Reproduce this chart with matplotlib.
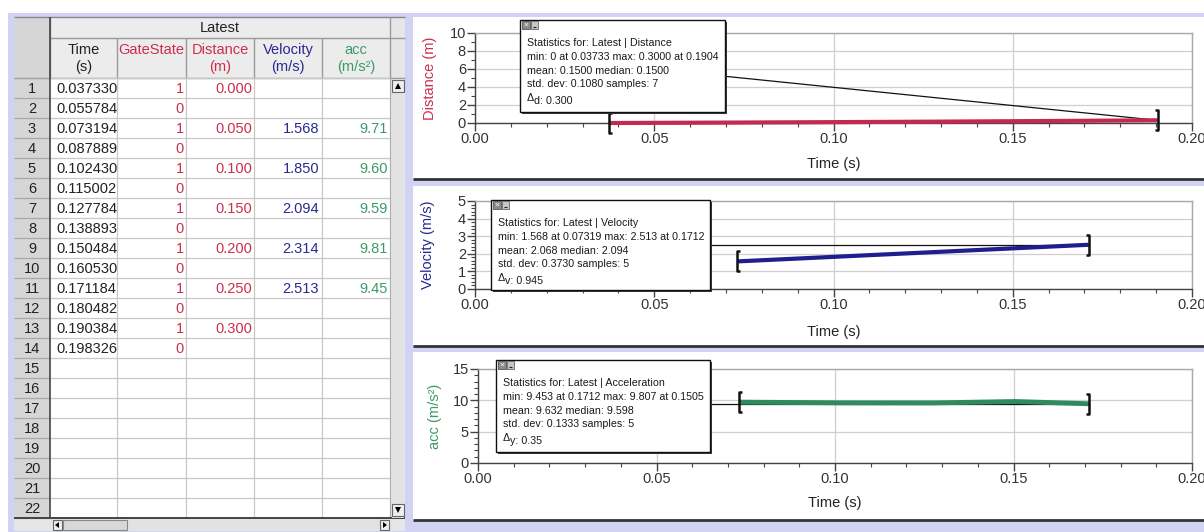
import matplotlib
matplotlib.use("Agg")
import matplotlib.pyplot as plt
from matplotlib.patches import Rectangle, Polygon
from matplotlib.path import Path
from matplotlib.ticker import MultipleLocator, FormatStrFormatter

plt.rcParams['font.family'] = ['Liberation Sans', 'DejaVu Sans']

# ---------------- data ----------------
time_s = [0.037330, 0.055784, 0.073194, 0.087889, 0.102430, 0.115002, 0.127784,
          0.138893, 0.150484, 0.160530, 0.171184, 0.180482, 0.190384, 0.198326]
gate_state = [1, 0, 1, 0, 1, 0, 1, 0, 1, 0, 1, 0, 1, 0]
distance_m = [0.000, None, 0.050, None, 0.100, None, 0.150, None, 0.200, None,
              0.250, None, 0.300, None]
velocity_ms = [None, None, 1.568, None, 1.850, None, 2.094, None, 2.314, None,
               2.513, None, None, None]
acc_ms2 = [None, None, 9.71, None, 9.60, None, 9.59, None, 9.81, None, 9.45,
           None, None, None]
n_table_rows = 22

col_headers = [("Time", "(s)"), ("GateState", ""), ("Distance", "(m)"),
               ("Velocity", "(m/s)"), ("acc", "(m/s²)")]

dist_stats = ["Statistics for: Latest | Distance",
              "min: 0 at 0.03733 max: 0.3000 at 0.1904",
              "mean: 0.1500 median: 0.1500",
              "std. dev: 0.1080 samples: 7"]
dist_delta = ("d", "0.300")
vel_stats = ["Statistics for: Latest | Velocity",
             "min: 1.568 at 0.07319 max: 2.513 at 0.1712",
             "mean: 2.068 median: 2.094",
             "std. dev: 0.3730 samples: 5"]
vel_delta = ("v", "0.945")
acc_stats = ["Statistics for: Latest | Acceleration",
             "min: 9.453 at 0.1712 max: 9.807 at 0.1505",
             "mean: 9.632 median: 9.598",
             "std. dev: 0.1333 samples: 5"]
acc_delta = ("y", "0.35")

# ---------------- styles ----------------
W, H = 1204, 532
LAV = '#d2d2f4'
RED = '#c22a52'
BLUE = '#1e1e8e'
GREEN = '#2e8b5e'
RED_T = '#cc2e4e'
BLUE_T = '#2a2a90'
GREEN_T = '#3c9a68'
FS_TAB = 10.5
FS_TICK = 10.5
FS_LAB = 10.5
FS_STAT = 7.7

fig = plt.figure(figsize=(W / 100, H / 100), dpi=100)
fig.patch.set_facecolor('white')

bg = fig.add_axes([0, 0, 1, 1], zorder=0)
bg.set_xlim(0, W)
bg.set_ylim(H, 0)
bg.axis('off')


def rect(ax, x0, y0, x1, y1, fc, ec='none', lw=0.0, z=1):
    ax.add_patch(Rectangle((x0, y0), x1 - x0, y1 - y0, fc=fc, ec=ec, lw=lw, zorder=z))


def hline(ax, y, x0, x1, c, lw=1.0, z=2):
    ax.plot([x0, x1], [y, y], color=c, lw=lw, zorder=z, solid_capstyle='butt')


def vline(ax, x, y0, y1, c, lw=1.0, z=2):
    ax.plot([x, x], [y0, y1], color=c, lw=lw, zorder=z, solid_capstyle='butt')


# lavender application background
rect(bg, 8, 13, W, H, LAV)

# ---------------- table ----------------
T_L, T_R = 14, 405
col_x = [14, 50, 117, 186, 254, 322, 390]
HDR_TOP, HDR_MID, HDR_BOT = 17, 38, 78
ROW_H = 20
T_BOT = HDR_BOT + ROW_H * n_table_rows  # 518

rect(bg, T_L, HDR_TOP, T_R, T_BOT + 13, '#e6e6e6', z=1)
rect(bg, col_x[1], HDR_BOT, col_x[-1], T_BOT, 'white', z=1)
rect(bg, col_x[0], HDR_TOP, col_x[1], T_BOT, '#d6d6d6', z=1)
rect(bg, col_x[1], HDR_TOP, col_x[-1], HDR_BOT, '#ececec', z=1)

hline(bg, HDR_TOP, T_L, T_R, '#888888', 1.0)
hline(bg, HDR_MID, col_x[1], T_R, '#9a9a9a', 1.0)
hline(bg, HDR_BOT, T_L, T_R, '#9a9a9a', 1.0)
for x in col_x[1:]:
    vline(bg, x, HDR_MID if x not in (col_x[1], col_x[-1]) else HDR_TOP, HDR_BOT, '#9a9a9a', 1.0)
bg.text((col_x[1] + col_x[-1]) / 2, (HDR_TOP + HDR_MID) / 2 + 1, "Latest",
        ha='center', va='center', fontsize=FS_TAB, color='#222222', zorder=3)
hdr_colors = ['#222222', RED_T, RED_T, BLUE_T, GREEN_T]
for i, (l1, l2) in enumerate(col_headers):
    cx = (col_x[i + 1] + col_x[i + 2]) / 2
    bg.text(cx, 50, l1, ha='center', va='center', fontsize=FS_TAB, color=hdr_colors[i], zorder=3)
    if l2:
        bg.text(cx, 67, l2, ha='center', va='center', fontsize=FS_TAB, color=hdr_colors[i], zorder=3)

for r in range(n_table_rows + 1):
    y = HDR_BOT + r * ROW_H
    hline(bg, y, col_x[1], col_x[-1], '#c8c8c8', 0.9)
    hline(bg, y, col_x[0], col_x[1], '#a8a8a8', 0.9)
for x in col_x[2:-1]:
    vline(bg, x, HDR_BOT, T_BOT, '#c8c8c8', 0.9)
vline(bg, col_x[1], HDR_TOP, T_BOT, '#444444', 1.2)
vline(bg, col_x[-1], HDR_BOT, T_BOT, '#b0b0b0', 0.9)
hline(bg, T_BOT, T_L, T_R, '#444444', 1.4)

for r in range(n_table_rows):
    cy = HDR_BOT + r * ROW_H + ROW_H / 2 + 1
    bg.text((col_x[0] + col_x[1]) / 2, cy, str(r + 1), ha='center', va='center',
            fontsize=FS_TAB, color='#222222', zorder=3)
for r in range(len(time_s)):
    cy = HDR_BOT + r * ROW_H + ROW_H / 2 + 1
    bg.text(col_x[1] + 6, cy, "%.6f" % time_s[r], ha='left', va='center',
            fontsize=FS_TAB, color='#222222', zorder=3)
    bg.text(col_x[3] - 2, cy, "%d" % gate_state[r], ha='right', va='center',
            fontsize=FS_TAB, color=RED_T, zorder=3)
    if distance_m[r] is not None:
        bg.text(col_x[4] - 2, cy, "%.3f" % distance_m[r], ha='right', va='center',
                fontsize=FS_TAB, color=RED_T, zorder=3)
    if velocity_ms[r] is not None:
        bg.text(col_x[5] - 3, cy, "%.3f" % velocity_ms[r], ha='right', va='center',
                fontsize=FS_TAB, color=BLUE_T, zorder=3)
    if acc_ms2[r] is not None:
        bg.text(col_x[6] - 2, cy, "%.2f" % acc_ms2[r], ha='right', va='center',
                fontsize=FS_TAB, color=GREEN_T, zorder=3)

# vertical scrollbar
rect(bg, 392, HDR_BOT + 1, 404, T_BOT, '#e2e2e2', z=2)
rect(bg, 392, HDR_BOT + 2, 404, HDR_BOT + 14, '#eeeeee', ec='#666666', lw=0.8, z=3)
bg.add_patch(Polygon([[395, HDR_BOT + 11], [401, HDR_BOT + 11], [398, HDR_BOT + 5]],
                     fc='black', zorder=4))
rect(bg, 392, T_BOT - 14, 404, T_BOT - 2, '#eeeeee', ec='#666666', lw=0.8, z=3)
bg.add_patch(Polygon([[395, T_BOT - 11], [401, T_BOT - 11], [398, T_BOT - 5]],
                     fc='black', zorder=4))
# horizontal scrollbar
rect(bg, col_x[1] + 2, T_BOT + 2, 392, T_BOT + 12, '#e2e2e2', z=2)
rect(bg, col_x[1] + 3, T_BOT + 2, col_x[1] + 12, T_BOT + 12, '#eeeeee', ec='#666666', lw=0.8, z=3)
bg.add_patch(Polygon([[col_x[1] + 5, T_BOT + 7], [col_x[1] + 9, T_BOT + 4], [col_x[1] + 9, T_BOT + 10]],
                     fc='black', zorder=4))
rect(bg, col_x[1] + 13, T_BOT + 2, 127, T_BOT + 12, '#d8d8d8', ec='#888888', lw=0.8, z=3)
rect(bg, 380, T_BOT + 2, 389, T_BOT + 12, '#eeeeee', ec='#666666', lw=0.8, z=3)
bg.add_patch(Polygon([[387, T_BOT + 7], [383, T_BOT + 4], [383, T_BOT + 10]],
                     fc='black', zorder=4))

# ---------------- graph panels ----------------
panels = [(17, 179), (186, 346), (352, 520)]
for (t, b) in panels:
    rect(bg, 413, t, W, b, 'white', z=1)
    hline(bg, b, 413, W, '#333333', 2.0)


def px_axes(l, r, t, b):
    return fig.add_axes([l / W, 1 - b / H, (r - l) / W, (b - t) / H], zorder=2)


ax1 = px_axes(475, 1192, 33, 123)
ax2 = px_axes(475, 1192, 201, 289)
ax3 = px_axes(478, 1192, 369, 463)


def style_axes(ax, ymax, ymajor, yminor, ylabel, ycolor, ylx, xly):
    ax.set_xlim(0.0, 0.20)
    ax.set_ylim(0, ymax)
    ax.xaxis.set_major_locator(MultipleLocator(0.05))
    ax.xaxis.set_minor_locator(MultipleLocator(0.01))
    ax.xaxis.set_major_formatter(FormatStrFormatter('%.2f'))
    ax.yaxis.set_major_locator(MultipleLocator(ymajor))
    ax.yaxis.set_minor_locator(MultipleLocator(yminor))
    ax.yaxis.set_major_formatter(FormatStrFormatter('%d'))
    ax.grid(True, which='major', color='#cfcfcf', lw=0.9)
    ax.set_axisbelow(True)
    for s in ('top', 'right'):
        ax.spines[s].set_color('#a8a8a8')
        ax.spines[s].set_linewidth(1.0)
    for s in ('left', 'bottom'):
        ax.spines[s].set_color('#444444')
        ax.spines[s].set_linewidth(1.0)
    ax.tick_params(which='major', direction='out', length=6, width=1.0,
                   color='#444444', labelsize=FS_TICK, labelcolor='#333333', pad=0.5)
    ax.tick_params(which='minor', direction='out', length=3, width=0.8, color='#444444')
    ax.set_xlabel("Time (s)", fontsize=FS_LAB, color='#222222')
    ax.xaxis.set_label_coords(0.5, xly)
    ax.xaxis.label.set_va('center')
    ax.set_ylabel(ylabel, fontsize=FS_LAB, color=ycolor)
    ax.yaxis.set_label_coords(ylx, 0.5)
    ax.yaxis.label.set_va('center')
    ax.set_facecolor('white')


style_axes(ax1, 10, 2, 1, "Distance (m)", RED_T, -0.063, -0.46)
style_axes(ax2, 5, 1, 0.2, "Velocity (m/s)", BLUE_T, -0.066, -0.49)
style_axes(ax3, 15, 5, 1, "acc (m/s²)", GREEN_T, -0.060, -0.43)

LB = Path([(0.35, 1), (0, 1), (0, -1), (0.35, -1)],
          [Path.MOVETO, Path.LINETO, Path.LINETO, Path.LINETO])
RB = Path([(-0.35, 1), (0, 1), (0, -1), (-0.35, -1)],
          [Path.MOVETO, Path.LINETO, Path.LINETO, Path.LINETO])


def series(ax, vals, color, lw, callout_start):
    xs = [t for t, v in zip(time_s, vals) if v is not None]
    ys = [v for v in vals if v is not None]
    ax.plot(xs, ys, color=color, lw=lw, zorder=4, clip_on=False, solid_capstyle='butt')
    ax.plot([callout_start[0], xs[-1]], [callout_start[1], ys[-1]], color='#111111',
            lw=0.9, zorder=3, clip_on=False)
    ax.plot([xs[0]], [ys[0]], marker=LB, ms=14, mew=1.8, mfc='none', mec='#111111',
            ls='none', zorder=5, clip_on=False)
    ax.plot([xs[-1]], [ys[-1]], marker=RB, ms=14, mew=1.8, mfc='none', mec='#111111',
            ls='none', zorder=5, clip_on=False)


series(ax1, distance_m, RED, 3.0, (0.0695, 5.2))
series(ax2, velocity_ms, BLUE, 3.0, (0.0656, 2.513))
series(ax3, acc_ms2, GREEN, 3.5, (0.0650, 9.45))

# ---------------- statistics boxes (overlay) ----------------
ov = fig.add_axes([0, 0, 1, 1], zorder=10)
ov.set_xlim(0, W)
ov.set_ylim(H, 0)
ov.axis('off')
ov.patch.set_alpha(0)


def stats_box(x0, y0, x1, y1, lines, delta):
    rect(ov, x0 + 2, y0 + 2, x1 + 2, y1 + 2, '#3a3a3a', z=1)
    rect(ov, x0, y0, x1, y1, 'white', ec='#111111', lw=1.0, z=2)
    rect(ov, x0 + 2, y0 + 1, x0 + 10, y0 + 9, '#8c8c8c', ec='#555555', lw=0.6, z=3)
    ov.text(x0 + 6, y0 + 5, "×", ha='center', va='center', fontsize=6, color='white',
            zorder=4)
    rect(ov, x0 + 11, y0 + 1, x0 + 18, y0 + 9, '#c6c6c6', ec='#666666', lw=0.6, z=3)
    hline(ov, y0 + 7, x0 + 13, x0 + 16, '#222222', 0.8, z=4)
    offs = [23, 36.5, 50.5, 64]
    for off, s in zip(offs, lines):
        ov.text(x0 + 7, y0 + off, s, ha='left', va='center', fontsize=FS_STAT,
                color='#1a1a1a', zorder=4)
    ov.text(x0 + 7, y0 + 78, "Δ", ha='left', va='center', fontsize=FS_STAT,
            color='#1a1a1a', zorder=4)
    ov.text(x0 + 14, y0 + 81, delta[0] + ": " + delta[1], ha='left', va='center',
            fontsize=FS_STAT, color='#1a1a1a', zorder=4)


stats_box(520, 20, 725, 112, dist_stats, dist_delta)
stats_box(491, 200, 710, 290, vel_stats, vel_delta)
stats_box(496, 360, 710, 452, acc_stats, acc_delta)

fig.savefig("out.png", dpi=100, facecolor='white')
